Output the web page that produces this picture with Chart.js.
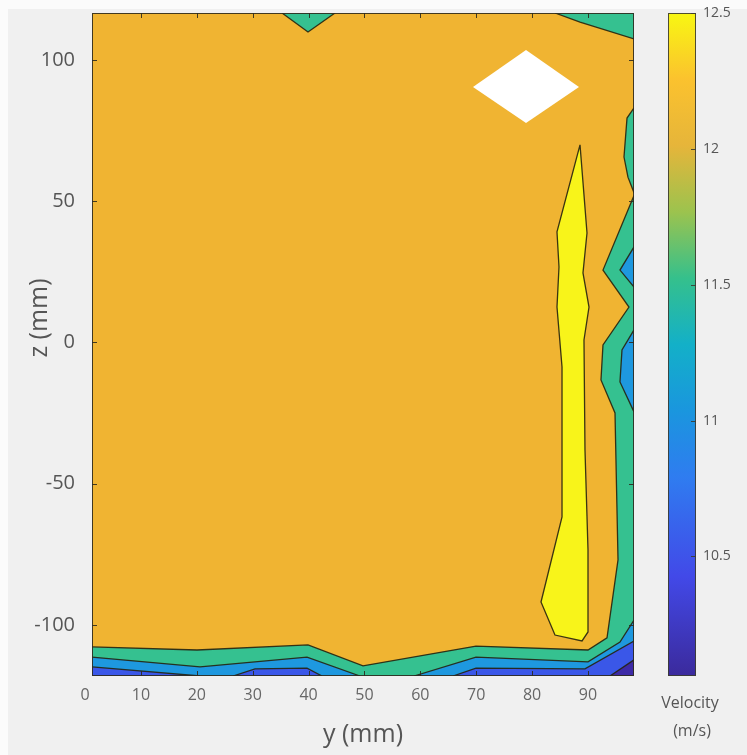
<!DOCTYPE html>
<html>
<head>
<meta charset="utf-8">
<script src="https://cdn.jsdelivr.net/npm/chart.js@4.4.1/dist/chart.umd.min.js"></script>
<style>
html, body { margin: 0; padding: 0; background: #fff; }
#wrap { width: 747px; height: 755px; }
</style>
</head>
<body>
<div id="wrap"><canvas id="c" width="747" height="755"></canvas></div>
<script>
// axis extents (mm) and tick labels
const yRange = [1.25, 98.23];
const zRange = [-118.1, 116.6];
const yTicks = [0, 10, 20, 30, 40, 50, 60, 70, 80, 90];
const zTicks = [-100, -50, 0, 50, 100];
const velRange = [10.06, 12.5];
const velTicks = [10.5, 11, 11.5, 12, 12.5];

// filled contour regions, vertices as [y, z] in mm
// velocity below 12 m/s
const below12 = [
  [[98.23, 52.0], [92.68, 25.6], [97.33, 12.5], [92.68, -0.9], [92.32, -13.3], [94.83, -25.0],
   [95.37, -77.0], [93.40, -104.6], [90.00, -108.9], [69.96, -107.5], [49.74, -114.5],
   [39.90, -107.1], [20.04, -108.9], [1.25, -107.8], [1.25, -118.1], [98.23, -118.1]],
  [[98.23, 83.0], [96.98, 79.4], [96.44, 65.6], [97.15, 58.5], [98.23, 53.0]],
  [[84.09, 116.6], [88.57, 113.4], [98.23, 107.4], [98.23, 116.6]],
  [[35.25, 116.6], [39.90, 109.9], [44.73, 116.6]]
];
// below 11.5 m/s
const below115 = [
  [[98.23, 33.8], [95.72, 25.6], [98.23, 19.6]],
  [[98.23, 4.4], [96.08, -2.7], [95.72, -14.0], [98.23, -24.6]],
  [[1.25, -111.4], [20.58, -114.9], [39.72, -111.4], [49.2, -118.1], [1.25, -118.1]],
  [[58.87, -118.1], [69.96, -111.4], [90.00, -113.1], [95.72, -106.1], [98.23, -98.3], [98.23, -118.1]]
];
// below 11 m/s
const below11 = [
  [[1.25, -114.9], [20.58, -118.1], [1.25, -118.1]],
  [[26.48, -118.1], [30.42, -115.6], [39.72, -115.3], [42.40, -118.1]],
  [[65.84, -118.1], [69.96, -115.3], [89.46, -115.6], [98.23, -105.7], [98.23, -118.1]]
];
// below 10.5 m/s
const below105 = [
  [[93.93, -118.1], [98.23, -112.4], [98.23, -118.1]]
];
// above 12.5 m/s
const above125 = [
  [[88.57, 69.9], [89.82, 38.7], [89.10, 24.6], [90.18, 12.5], [89.28, 0.85], [89.46, -38.1],
   [90.00, -73.5], [90.00, -102.5], [88.93, -105.7], [84.09, -103.6], [81.59, -91.9],
   [85.35, -61.8], [85.35, -38.1], [85.35, -8.7], [84.45, 12.5], [84.81, 26.7], [84.45, 39.1]]
];
// missing data patch
const noData = [
  [[69.42, 90.4], [78.91, 103.5], [88.39, 90.4], [78.91, 77.7]]
];
const domain = [[yRange[0], zRange[0]], [yRange[1], zRange[0]], [yRange[1], zRange[1]], [yRange[0], zRange[1]]];

const colors = {
  c105: '#3D2AA6',
  c11: '#3A57E8',
  c115: '#1E98DF',
  c12: '#35C190',
  c125: '#F0B432',
  top: '#F8F41A'
};
const cbStops = [
  [0, '#3B2A9C'], [0.15, '#4249E8'], [0.3, '#2F7CF0'], [0.4, '#1A96DE'], [0.5, '#13B0C8'],
  [0.6, '#35C08C'], [0.7, '#9CC34E'], [0.8, '#E6B53A'], [0.9, '#FBC22E'], [1, '#F8F712']
];

const transparent = 'rgba(0,0,0,0)';
const onEdge = (p, q) =>
  (p.x === q.x && (p.x <= yRange[0] || p.x >= yRange[1])) ||
  (p.y === q.y && (p.y <= zRange[0] || p.y >= zRange[1]));
const closed = poly => poly.concat([poly[0]]).map(([x, y]) => ({ x, y }));

function patch(poly, color, order) {
  return {
    data: closed(poly),
    backgroundColor: color,
    borderColor: transparent,
    borderWidth: 0,
    fill: 'shape',
    pointRadius: 0,
    order
  };
}
function contour(poly) {
  return {
    data: closed(poly),
    borderColor: 'rgba(38,34,14,0.9)',
    borderWidth: 1.3,
    fill: false,
    pointRadius: 0,
    order: 1,
    segment: { borderColor: c => onEdge(c.p0.parsed, c.p1.parsed) ? transparent : undefined }
  };
}

const datasets = [patch(domain, colors.c125, 10)];
[[below12, colors.c12, 9], [below115, colors.c115, 8], [below11, colors.c11, 7],
 [below105, colors.c105, 6], [above125, colors.top, 5]].forEach(([polys, color, order]) => {
  polys.forEach(p => {
    datasets.push(patch(p, color, order));
    datasets.push(contour(p));
  });
});
noData.forEach(p => datasets.push(patch(p, '#ffffff', 0)));

// keep the plot box where the figure has it
const fixBox = size => s => {
  if (s.isHorizontal()) s.height = size; else s.width = size;
  s.paddingTop = s.paddingBottom = s.paddingLeft = s.paddingRight = 0;
};

const figure = {
  id: 'figure',
  beforeDraw(chart) {
    const ctx = chart.ctx;
    ctx.save();
    ctx.fillStyle = '#fbfbfb';
    ctx.fillRect(0, 0, chart.width, chart.height);
    ctx.fillStyle = '#f0f0f0';
    ctx.fillRect(8, 9, chart.width - 8, chart.height - 9);
    ctx.restore();
  },
  afterDraw(chart) {
    const ctx = chart.ctx;
    const a = chart.chartArea;
    const {x, y} = chart.scales;
    ctx.save();
    ctx.strokeStyle = 'rgba(45,42,30,0.9)';
    ctx.lineWidth = 1;
    ctx.strokeRect(a.left + 0.5, a.top + 0.5, a.right - a.left - 1, a.bottom - a.top - 1);

    // inward tick marks
    ctx.beginPath();
    yTicks.forEach(v => {
      const px = Math.round(x.getPixelForValue(v)) + 0.5;
      if (px <= a.left || px >= a.right) return;
      ctx.moveTo(px, a.bottom); ctx.lineTo(px, a.bottom - 5);
      ctx.moveTo(px, a.top); ctx.lineTo(px, a.top + 5);
    });
    zTicks.forEach(v => {
      const py = Math.round(y.getPixelForValue(v)) + 0.5;
      ctx.moveTo(a.left, py); ctx.lineTo(a.left + 5, py);
      ctx.moveTo(a.right, py); ctx.lineTo(a.right - 5, py);
    });
    ctx.stroke();

    // z axis title
    ctx.fillStyle = '#555';
    ctx.font = '25px "Open Sans"';
    ctx.textAlign = 'center';
    ctx.textBaseline = 'middle';
    ctx.translate(40, 318);
    ctx.rotate(-Math.PI / 2);
    ctx.fillText('z (mm)', 0, 0);
    ctx.setTransform(1, 0, 0, 1, 0, 0);

    // colour bar
    const cb = chart.scales.cb;
    const top = cb.getPixelForValue(velRange[1]);
    const bot = cb.getPixelForValue(velRange[0]);
    const g = ctx.createLinearGradient(0, bot, 0, top);
    cbStops.forEach(([t, c]) => g.addColorStop(t, c));
    ctx.fillStyle = g;
    ctx.fillRect(668, top, 28, bot - top);
    ctx.strokeStyle = 'rgba(60,60,50,0.9)';
    ctx.strokeRect(668.5, top + 0.5, 27, bot - top - 1);
    velTicks.forEach(v => {
      const py = Math.round(cb.getPixelForValue(v)) + 0.5;
      ctx.beginPath();
      ctx.moveTo(691, py);
      ctx.lineTo(696, py);
      ctx.stroke();
    });
    ctx.fillStyle = '#555';
    ctx.font = '16px "Open Sans"';
    ctx.fillText('Velocity', 690, 703);
    ctx.fillText('(m/s)', 692, 731);
    ctx.restore();
  }
};

new Chart(document.getElementById('c'), {
  type: 'line',
  data: { datasets },
  options: {
    responsive: false,
    animation: false,
    events: [],
    layout: { padding: { top: 13, left: 0, right: 0, bottom: 0 } },
    elements: { line: { tension: 0 } },
    plugins: { legend: { display: false }, tooltip: { enabled: false } },
    scales: {
      x: {
        type: 'linear',
        min: yRange[0],
        max: yRange[1],
        afterBuildTicks: s => { s.ticks = yTicks.map(v => ({ value: v })); },
        afterFit: fixBox(79),
        grid: { display: false, drawTicks: false },
        border: { display: false },
        ticks: {
          padding: 10, color: '#666', autoSkip: false, maxRotation: 0,
          font: { family: 'Open Sans', size: 16 },
          callback: v => String(v)
        },
        title: {
          display: true, text: 'y (mm)', color: '#555',
          font: { family: 'Open Sans', size: 25 }, padding: { top: 0, bottom: 5 }
        }
      },
      y: {
        type: 'linear',
        min: zRange[0],
        max: zRange[1],
        afterBuildTicks: s => { s.ticks = zTicks.map(v => ({ value: v })); },
        afterFit: fixBox(92),
        grid: { display: false, drawTicks: false },
        border: { display: false },
        ticks: {
          padding: 17, color: '#555', autoSkip: false,
          font: { family: 'Open Sans', size: 20 },
          callback: v => String(v)
        }
      },
      cb: {
        type: 'linear',
        position: 'right',
        min: velRange[0],
        max: velRange[1],
        afterBuildTicks: s => { s.ticks = velTicks.map(v => ({ value: v })); },
        afterFit: fixBox(113),
        grid: { display: false, drawTicks: false },
        border: { display: false },
        ticks: {
          padding: 69, color: '#555', autoSkip: false,
          font: { family: 'Open Sans', size: 14 },
          callback: v => String(v)
        }
      }
    }
  },
  plugins: [figure]
});
</script>
</body>
</html>
